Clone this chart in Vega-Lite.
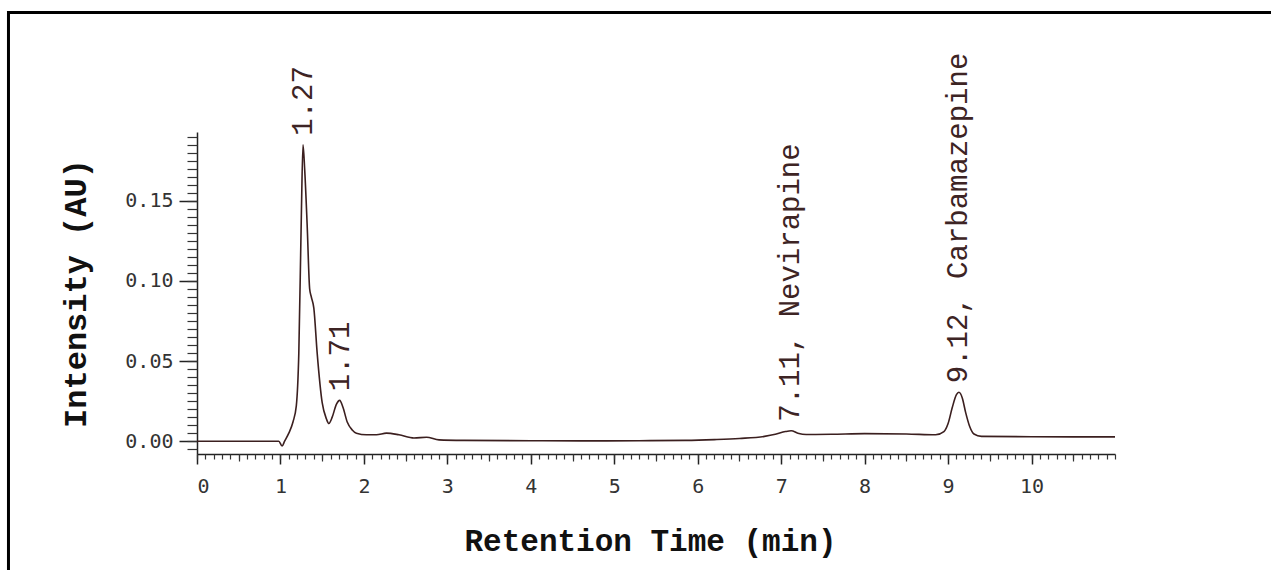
{
  "$schema": "https://vega.github.io/schema/vega-lite/v6.json",
  "autosize": {"type": "none"},
  "padding": {"left": 197, "top": 132, "right": 156, "bottom": 116},
  "width": 918,
  "height": 322,
  "background": "white",
  "config": {"view": {"stroke": null}},
  "datasets": {
    "trace": [
      {"time": 0, "intensity": 0},
      {"time": 0.5, "intensity": 0},
      {"time": 0.98, "intensity": 0},
      {"time": 1.02, "intensity": -0.003},
      {"time": 1.05, "intensity": 0.0},
      {"time": 1.10, "intensity": 0.005},
      {"time": 1.15, "intensity": 0.012},
      {"time": 1.19, "intensity": 0.022},
      {"time": 1.22, "intensity": 0.055},
      {"time": 1.25, "intensity": 0.14},
      {"time": 1.27, "intensity": 0.185},
      {"time": 1.29, "intensity": 0.17},
      {"time": 1.32, "intensity": 0.135},
      {"time": 1.35, "intensity": 0.095},
      {"time": 1.37, "intensity": 0.09},
      {"time": 1.40, "intensity": 0.083},
      {"time": 1.44, "intensity": 0.055},
      {"time": 1.50, "intensity": 0.024},
      {"time": 1.55, "intensity": 0.014},
      {"time": 1.58, "intensity": 0.011},
      {"time": 1.62, "intensity": 0.015},
      {"time": 1.67, "intensity": 0.023},
      {"time": 1.71, "intensity": 0.0255},
      {"time": 1.75, "intensity": 0.021},
      {"time": 1.80, "intensity": 0.012},
      {"time": 1.86, "intensity": 0.007},
      {"time": 1.91, "intensity": 0.005},
      {"time": 2.03, "intensity": 0.004},
      {"time": 2.15, "intensity": 0.004},
      {"time": 2.27, "intensity": 0.005},
      {"time": 2.42, "intensity": 0.004},
      {"time": 2.6, "intensity": 0.002},
      {"time": 2.75, "intensity": 0.0025},
      {"time": 2.9, "intensity": 0.0008},
      {"time": 3.2, "intensity": 0.0005},
      {"time": 4.0, "intensity": 0.0003},
      {"time": 4.6, "intensity": 0.0002},
      {"time": 5.3, "intensity": 0.0003},
      {"time": 5.85, "intensity": 0.0005},
      {"time": 6.2, "intensity": 0.001},
      {"time": 6.5, "intensity": 0.0017},
      {"time": 6.8, "intensity": 0.003},
      {"time": 6.93, "intensity": 0.0043},
      {"time": 7.05, "intensity": 0.006},
      {"time": 7.12, "intensity": 0.0065},
      {"time": 7.2, "intensity": 0.005},
      {"time": 7.3, "intensity": 0.0042},
      {"time": 7.6, "intensity": 0.0043},
      {"time": 8.0, "intensity": 0.0047},
      {"time": 8.5, "intensity": 0.0045},
      {"time": 8.85, "intensity": 0.004},
      {"time": 8.95, "intensity": 0.006},
      {"time": 9.0, "intensity": 0.011},
      {"time": 9.05, "intensity": 0.021},
      {"time": 9.1, "intensity": 0.029},
      {"time": 9.13, "intensity": 0.0305},
      {"time": 9.17, "intensity": 0.027},
      {"time": 9.21, "intensity": 0.018},
      {"time": 9.26, "intensity": 0.009},
      {"time": 9.31, "intensity": 0.0045},
      {"time": 9.4, "intensity": 0.003},
      {"time": 10.0, "intensity": 0.0028},
      {"time": 10.5, "intensity": 0.0027},
      {"time": 11.0, "intensity": 0.0027}
    ],
    "peaks": [
      {"time": 1.27, "intensity": 0.185, "label": "1.27"},
      {"time": 1.71, "intensity": 0.0255, "label": "1.71"},
      {"time": 7.11, "intensity": 0.0065, "label": "7.11, Nevirapine"},
      {"time": 9.12, "intensity": 0.0305, "label": "9.12, Carbamazepine"}
    ],
    "frame": [{}]
  },
  "resolve": {"axis": {"x": "independent", "y": "independent"}},
  "layer": [
    {
      "data": {"name": "trace"},
      "mark": {"type": "line", "interpolate": "monotone", "color": "#3b1f1f", "strokeWidth": 1.6},
      "encoding": {
        "x": {
          "field": "time", "type": "quantitative",
          "scale": {"domain": [0, 11], "nice": false, "zero": false},
          "axis": {
            "orient": "bottom",
            "values": [0, 1, 2, 3, 4, 5, 6, 7, 8, 9, 10],
            "grid": false,
            "tickSize": 10, "tickWidth": 1.5, "tickColor": "#222",
            "domainColor": "#222", "domainWidth": 1.5,
            "labelFont": "DejaVu Sans Mono", "labelFontSize": 20, "labelColor": "#333",
            "labelPadding": 12,
            "title": "Retention Time (min)",
            "titleFont": "Liberation Mono", "titleFontSize": 31, "titleFontWeight": "bold", "titleColor": "#111",
            "titleBaseline": "alphabetic", "titleY": 96, "titleX": 453
          }
        },
        "y": {
          "field": "intensity", "type": "quantitative",
          "scale": {"domain": [-0.008, 0.193], "nice": false, "zero": false},
          "axis": {
            "orient": "left",
            "values": [0, 0.05, 0.1, 0.15],
            "format": ".2f",
            "grid": false,
            "tickSize": 18, "tickWidth": 1.5, "tickColor": "#222",
            "domainColor": "#222", "domainWidth": 1.5,
            "labelFont": "DejaVu Sans Mono", "labelFontSize": 20, "labelColor": "#333",
            "labelPadding": 6,
            "title": "Intensity (AU)",
            "titleFont": "Liberation Mono", "titleFontSize": 32, "titleFontWeight": "bold", "titleColor": "#111",
            "titleBaseline": "alphabetic", "titleX": -112, "titleAngle": 270
          }
        }
      }
    },
    {
      "data": {"name": "peaks"},
      "mark": {"type": "text", "angle": 270, "align": "left", "baseline": "middle", "dx": 9,
               "font": "Liberation Mono", "fontSize": 29, "color": "#3d2424"},
      "encoding": {
        "x": {
          "field": "time", "type": "quantitative",
          "scale": {"domain": [0, 11], "nice": false, "zero": false},
          "axis": {"orient": "bottom", "tickCount": 110, "labels": false, "domain": false, "grid": false,
                   "tickSize": 5, "tickWidth": 1.2, "tickColor": "#333", "title": null}
        },
        "y": {
          "field": "intensity", "type": "quantitative",
          "scale": {"domain": [-0.008, 0.193], "nice": false, "zero": false},
          "axis": {"orient": "left", "tickCount": 40, "labels": false, "domain": false, "grid": false,
                   "tickSize": 10, "tickWidth": 1.2, "tickColor": "#333", "title": null}
        },
        "text": {"field": "label", "type": "nominal"}
      }
    },
    {
      "data": {"name": "frame"},
      "mark": {"type": "rect", "fill": "white", "fillOpacity": 0, "stroke": "#000", "strokeWidth": 3},
      "encoding": {
        "x": {"datum": -2.259, "type": "quantitative",
              "scale": {"domain": [0, 11], "nice": false, "zero": false},
              "axis": {"orient": "bottom", "values": [0.5, 1.5, 2.5, 3.5, 4.5, 5.5, 6.5, 7.5, 8.5, 9.5, 10.5],
                       "labels": false, "domain": false, "grid": false,
                       "tickSize": 7, "tickWidth": 1.2, "tickColor": "#333", "title": null}},
        "x2": {"datum": 13.5},
        "y": {"datum": 0.2676, "type": "quantitative",
              "scale": {"domain": [-0.008, 0.193], "nice": false, "zero": false},
              "axis": null},
        "y2": {"datum": -0.2}
      }
    }
  ]
}
